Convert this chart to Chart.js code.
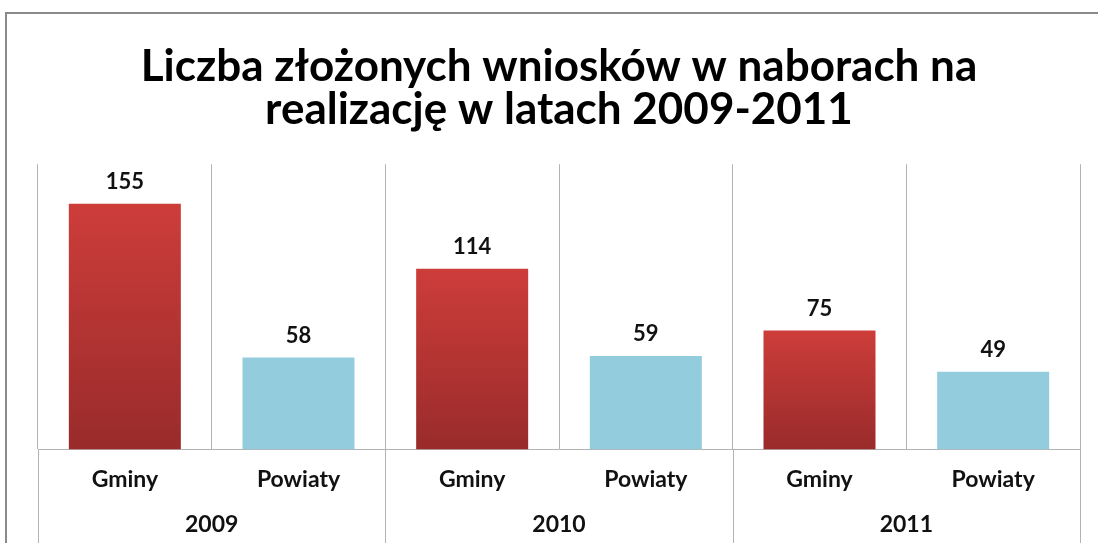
<!DOCTYPE html>
<html>
<head>
<meta charset="utf-8">
<script src="https://cdn.jsdelivr.net/npm/chart.js@4"></script>
<style>
  body { margin: 0; background: #fff; overflow: hidden; }
  #frame { position: absolute; left: 5px; top: 12px; width: 1200px; height: 600px;
           border-top: 2px solid #8a8a8a; border-left: 2px solid #8a8a8a; }
  #c { position: absolute; left: 0; top: 0; }
</style>
</head>
<body>
<div id="frame"></div>
<canvas id="c" width="1098" height="543"></canvas>
<script>
// --- data ---
var years = ['2009', '2010', '2011'];
var groups = ['Gminy', 'Powiaty'];
var gminy = [155, 114, 75];
var powiaty = [58, 59, 49];

var titleLines = ['Liczba złożonych wniosków w naborach na', 'realizację w latach 2009-2011'];

// flatten into one category axis: Gminy, Powiaty per year
var labels = [];
var values = [];
years.forEach(function(y, i) {
  labels.push(groups[0]); values.push(gminy[i]);
  labels.push(groups[1]); values.push(powiaty[i]);
});

var FONT = 'Lato, "Open Sans", sans-serif';
var GRID = '#b3b3b3';
var TEXT = '#111';

function barColor(ctx) {
  if (ctx.dataIndex % 2 === 1) return '#93cddd';
  var chart = ctx.chart;
  var area = chart.chartArea;
  if (!area) return '#c0392b';
  var yScale = chart.scales.y;
  var top = yScale.getPixelForValue(values[ctx.dataIndex]);
  var g = chart.ctx.createLinearGradient(0, top, 0, yScale.getPixelForValue(0));
  g.addColorStop(0, '#cd3d3a');
  g.addColorStop(1, '#992b2b');
  return g;
}

// value labels over bars + year row under the category labels
var extrasPlugin = {
  id: 'extras',
  afterDatasetsDraw: function(chart) {
    var ctx = chart.ctx;
    var meta = chart.getDatasetMeta(0);
    ctx.save();
    ctx.fillStyle = TEXT;
    ctx.font = 'bold 22px ' + FONT;
    ctx.textAlign = 'center';
    ctx.textBaseline = 'middle';
    meta.data.forEach(function(bar, i) {
      ctx.fillText(values[i], bar.x, bar.y - 22);
    });
    ctx.restore();
  },
  afterDraw: function(chart) {
    var ctx = chart.ctx;
    var x = chart.scales.x;
    var area = chart.chartArea;
    var half = (x.getPixelForValue(1) - x.getPixelForValue(0)) / 2;
    ctx.save();
    ctx.strokeStyle = GRID;
    ctx.lineWidth = 1;
    for (var i = 0; i <= years.length; i++) {
      var px;
      if (i < years.length) px = x.getPixelForValue(i * 2) - half;
      else px = x.getPixelForValue(i * 2 - 1) + half;
      px = Math.round(px) + 0.5;
      ctx.beginPath();
      ctx.moveTo(px, area.bottom);
      ctx.lineTo(px, chart.height);
      ctx.stroke();
    }
    ctx.fillStyle = TEXT;
    ctx.font = 'bold 23px ' + FONT;
    ctx.textAlign = 'center';
    ctx.textBaseline = 'middle';
    years.forEach(function(y, i) {
      var cx = (x.getPixelForValue(i * 2) + x.getPixelForValue(i * 2 + 1)) / 2;
      ctx.fillText(y, cx, area.bottom + 75);
    });
    ctx.restore();
  }
};

new Chart(document.getElementById('c'), {
  type: 'bar',
  data: {
    labels: labels,
    datasets: [{
      data: values,
      backgroundColor: barColor,
      barPercentage: 0.645,
      categoryPercentage: 1
    }]
  },
  options: {
    responsive: false,
    animation: false,
    layout: { padding: { left: 38, right: 18, top: 0, bottom: 34 } },
    plugins: {
      legend: { display: false },
      tooltip: { enabled: false },
      title: {
        display: true,
        text: titleLines,
        color: '#000',
        font: { family: FONT, size: 44, weight: 'bold', lineHeight: 0.98 },
        padding: { top: 45, bottom: 33 }
      }
    },
    scales: {
      x: {
        grid: { offset: true, color: GRID, drawTicks: false },
        border: { display: true, color: GRID },
        ticks: { color: TEXT, font: { family: FONT, size: 23, weight: 'bold' }, padding: 16 }
      },
      y: {
        display: false,
        min: 0,
        max: 180
      }
    }
  },
  plugins: [extrasPlugin]
});
</script>
</body>
</html>
